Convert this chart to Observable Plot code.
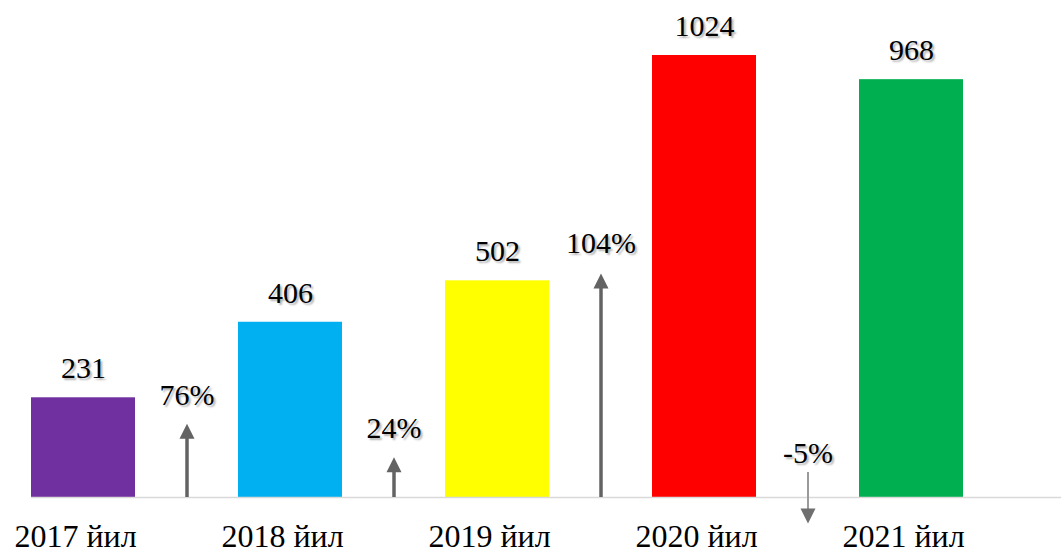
<!DOCTYPE html>
<html>
<head>
<meta charset="utf-8">
<script src="https://cdn.jsdelivr.net/npm/d3@7"></script>
<script src="https://cdn.jsdelivr.net/npm/@observablehq/plot@0.6"></script>
<style>
  html, body { margin: 0; padding: 0; background: #fff; }
  #chart svg g[aria-label="text"] text { text-shadow: 2px 2px 2px rgba(0,0,0,0.3); }
</style>
</head>
<body>
<div id="chart"></div>
<script>
const years = ["2017 йил", "2018 йил", "2019 йил", "2020 йил", "2021 йил"];
const values = [231, 406, 502, 1024, 968];
const colors = ["#7030A0", "#00B0F0", "#FFFF00", "#FF0000", "#00B050"];
const growthLabels = ["76%", "24%", "104%", "-5%"];
const arrowFrom = [0, 0, 0, 58];
const arrowTo = [171, 93, 519, -60];
const growthLabelY = [236, 160, 588, 102];

const bars = years.map((year, i) => ({year, value: values[i], color: colors[i]}));
const growth = growthLabels.map((label, i) => ({
  year: years[i], label, from: arrowFrom[i], to: arrowTo[i], ly: growthLabelY[i]
}));
const ups = growth.filter(d => d.to > d.from);
const downs = growth.filter(d => d.to < d.from);

const head = {
  draw(ctx) {
    ctx.moveTo(0, 0);
    ctx.lineTo(7.5, 15);
    ctx.lineTo(-7.5, 15);
    ctx.closePath();
  }
};

const font = "'Liberation Serif', 'Times New Roman', serif";
const half = 103.5;

const chart = Plot.plot({
  width: 1061,
  height: 553,
  marginTop: 0,
  marginBottom: 56,
  marginLeft: 31,
  marginRight: 98.5,
  style: {fontFamily: font, background: "#fff", overflow: "visible"},
  x: {domain: years, paddingInner: 0.5, paddingOuter: 0, align: 0, label: null},
  y: {domain: [0, 1151.4], axis: null},
  color: {type: "identity"},
  marks: [
    Plot.barY(bars, {x: "year", y: "value", fill: "color"}),
    Plot.ruleY([0], {stroke: "#d9d9d9", strokeWidth: 1.5, insetRight: -98.5}),
    Plot.axisX({tickSize: 0, tickPadding: 27, fontSize: 32, dx: -8, fill: "#000", label: null}),
    Plot.text(bars, {x: "year", y: "value", text: d => String(d.value), fontSize: 30, dy: -29, fill: "#000"}),
    Plot.ruleX(ups, {x: "year", y1: "to", y2: "from", dx: half, stroke: "#636363", strokeWidth: 3.5, insetTop: 13}),
    Plot.ruleX(downs, {x: "year", y1: "from", y2: "to", dx: half, stroke: "#9a9a9a", strokeWidth: 2, insetBottom: 13}),
    Plot.dot(ups, {x: "year", y: "to", dx: half, symbol: head, fill: "#636363", stroke: "none"}),
    Plot.dot(downs, {x: "year", y: "to", dx: half, symbol: head, rotate: 180, fill: "#6f6f6f", stroke: "none"}),
    Plot.text(growth, {x: "year", y: "ly", text: "label", dx: half, fontSize: 30, fill: "#000"})
  ]
});
document.getElementById("chart").appendChild(chart);
</script>
</body>
</html>
